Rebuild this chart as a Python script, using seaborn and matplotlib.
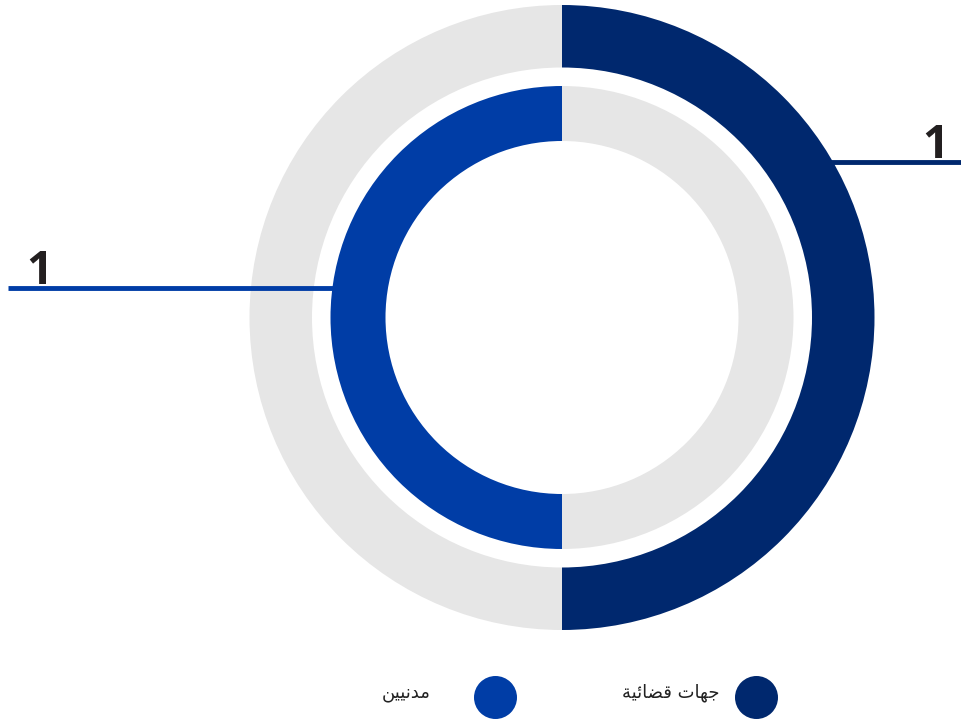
import matplotlib
matplotlib.use("Agg")
import matplotlib.pyplot as plt
import seaborn as sns

sns.set_theme(style="white")
plt.rcParams['font.family'] = ['DejaVu Sans']

# ---- data ----
categories = ["جهات قضائية", "مدنيين"]
values = [1, 1]
value_labels = ["1", "1"]
colors = ["#00286E", "#003DA6"]
track_color = "#E6E6E6"

# ---- minimal Arabic shaping for display (matplotlib has no RTL shaping) ----
FORMS = {  # isolated, final, initial, medial
    'ج': ('\uFE9D', '\uFE9E', '\uFE9F', '\uFEA0'),
    'ه': ('\uFEE9', '\uFEEA', '\uFEEB', '\uFEEC'),
    'ا': ('\uFE8D', '\uFE8E', None, None),
    'ت': ('\uFE95', '\uFE96', '\uFE97', '\uFE98'),
    'ق': ('\uFED5', '\uFED6', '\uFED7', '\uFED8'),
    'ض': ('\uFEBF', '\uFEC0', '\uFEBF', '\uFEC0'),
    'ئ': ('\uFE89', '\uFE8A', '\uFE8B', '\uFE8C'),
    'ي': ('\uFEF1', '\uFEF2', '\uFEF3', '\uFEF4'),
    'ة': ('\uFE93', '\uFE94', None, None),
    'م': ('\uFEE1', '\uFEE2', '\uFEE3', '\uFEE4'),
    'د': ('\uFEA9', '\uFEAA', None, None),
    'ن': ('\uFEE5', '\uFEE6', '\uFEE7', '\uFEE8'),
}
FORMS['ض'] = ('\uFEBD', '\uFEBE', '\uFEBF', '\uFEC0')


def shape(text):
    out = []
    chars = list(text)
    for i, c in enumerate(chars):
        if c not in FORMS:
            out.append(c)
            continue
        prev = chars[i - 1] if i > 0 else None
        nxt = chars[i + 1] if i + 1 < len(chars) else None
        join_prev = prev in FORMS and FORMS[prev][2] is not None
        join_next = nxt in FORMS and FORMS[c][2] is not None
        iso, fin, ini, med = FORMS[c]
        if join_prev and join_next:
            out.append(med)
        elif join_prev:
            out.append(fin)
        elif join_next:
            out.append(ini)
        else:
            out.append(iso)
    return ''.join(reversed(out))


W, H = 961, 723
fig = plt.figure(figsize=(W / 100, H / 100), dpi=100)
ax = fig.add_axes([0, 0, 1, 1])

cx, cy = 562, H - 317.5
total = sum(values)

# outer ring: first category share
ax.pie([values[0], total - values[0]], colors=[colors[0], track_color],
       radius=312.5, center=(cx, cy), startangle=90, counterclock=False,
       wedgeprops=dict(width=62.5, linewidth=0, zorder=1))
# inner ring: second category, continuing after the first
ax.pie([values[0], values[1]], colors=[track_color, colors[1]],
       radius=231.5, center=(cx, cy), startangle=90, counterclock=False,
       wedgeprops=dict(width=55, linewidth=0, zorder=3))

# leader lines
ax.plot([800, W], [H - 162, H - 162], color=colors[0], lw=3.5, zorder=0.5,
        solid_capstyle='butt')
ax.plot([8, 345], [H - 288, H - 288], color=colors[1], lw=3.5, zorder=2,
        solid_capstyle='butt')

ax.text(949, H - 158, value_labels[0], ha='right', va='baseline',
        fontsize=33, fontweight='bold', color='#231F20', family=['Open Sans'])
ax.text(26, H - 284, value_labels[1], ha='left', va='baseline',
        fontsize=33, fontweight='bold', color='#231F20', family=['Open Sans'])

# legend (RTL: marker right of text)
leg_marker_x = [756, 495]
leg_text_x = [720, 431]
leg_y = H - 696.5
for i in range(len(categories)):
    ax.scatter([leg_marker_x[i]], [leg_y], s=(43 * 0.72) ** 2, color=colors[i],
               linewidths=0, zorder=5)
    ax.text(leg_text_x[i], leg_y + 4, shape(categories[i]), ha='right',
            va='center', fontsize=13, color='#222222', family=['DejaVu Sans'])

ax.set_xlim(0, W)
ax.set_ylim(0, H)
ax.set_aspect('auto')
ax.axis('off')

fig.savefig("out.png", dpi=100, facecolor='white')
